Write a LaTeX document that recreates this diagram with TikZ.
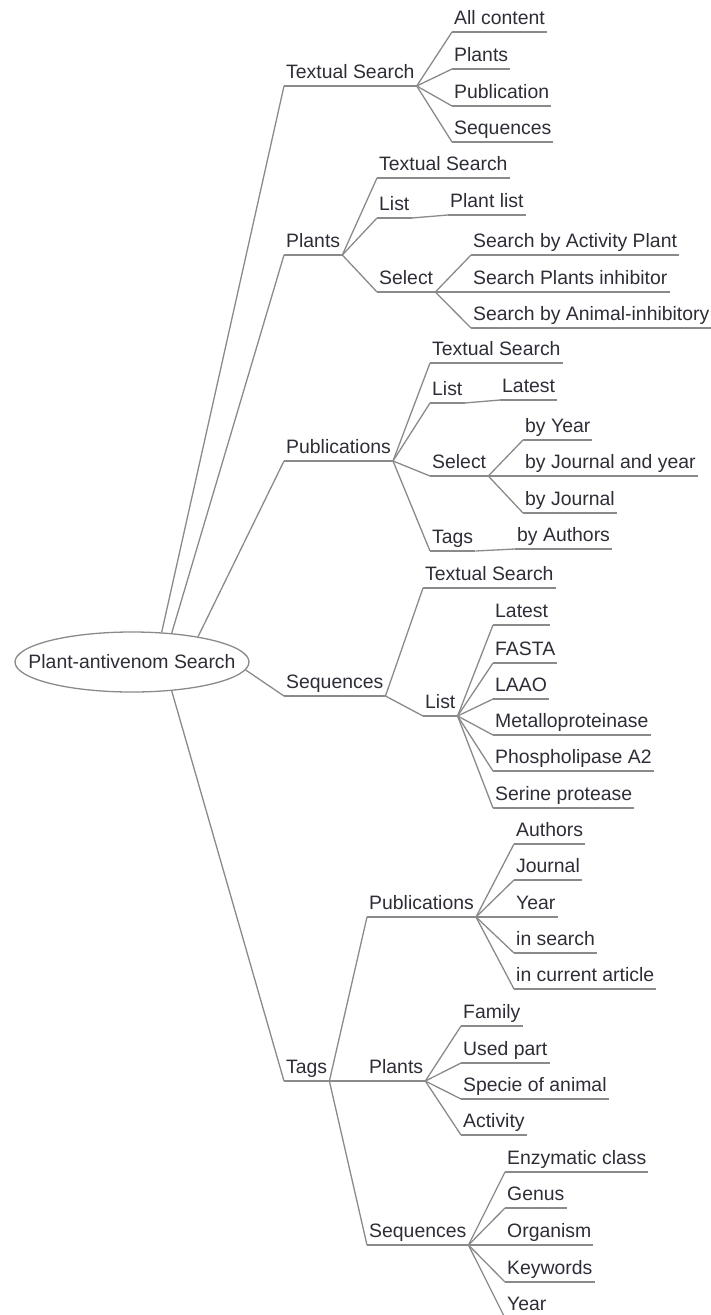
\documentclass[tikz,border=0pt]{standalone}
\usepackage{fontspec}
\setmainfont{Liberation Sans}
\usetikzlibrary{shapes.geometric}
\definecolor{linegray}{RGB}{138,138,138}
\definecolor{textdark}{RGB}{45,45,55}

\begin{document}
\begin{tikzpicture}[x=1pt,y=-1pt,font=\fontsize{19.4}{22}\selectfont,
    every edge/.style={draw=linegray,line width=1.3pt},
    item/.style={anchor=south west,inner xsep=2pt,inner ysep=3pt,
      text height=14pt,text depth=4pt,text=textdark,
      append after command={(\tikzlastnode.south west) edge (\tikzlastnode.south east)}}]
  \useasboundingbox (0,0) rectangle (711,1315);
  \node[ellipse,draw=linegray,line width=1.3pt,minimum width=234pt,
    minimum height=60pt,inner sep=0pt] (root) at (132,662) {};
  \node[text=textdark] (rootlabel) at (root.center) {Plant-antivenom Search};

  \node[item] (tsearch) at (284,86) {Textual Search};
  \node[item] (plants) at (284,255) {Plants};
  \node[item] (pubs) at (284,461) {Publications};
  \node[item] (seqs) at (284,696) {Sequences};
  \node[item] (tags) at (284,1081) {Tags};

  \node[item] (tsAll) at (452,32) {All content};
  \node[item] (tsPlants) at (452,69) {Plants};
  \node[item] (tsPub) at (452,106) {Publication};
  \node[item] (tsSeq) at (452,142) {Sequences};

  \node[item] (plTS) at (377,178) {Textual Search};
  \node[item] (plList) at (377,218) {List};
  \node[item] (plListP) at (448,215) {Plant list};
  \node[item] (plSel) at (377,292) {Select};
  \node[item] (plSel1) at (471,255) {Search by Activity Plant};
  \node[item] (plSel2) at (471,292) {Search Plants inhibitor};
  \node[item] (plSel3) at (471,328) {Search by Animal-inhibitory};

  \node[item] (puTS) at (430,363) {Textual Search};
  \node[item] (puList) at (430,403) {List};
  \node[item] (puLatest) at (500,400) {Latest};
  \node[item] (puSel) at (430,476) {Select};
  \node[item] (puSel1) at (523,440) {by Year};
  \node[item] (puSel2) at (523,476) {by Journal and year};
  \node[item] (puSel3) at (523,513) {by Journal};
  \node[item] (puTags) at (430,551) {Tags};
  \node[item] (puAuth) at (515,549) {by Authors};

  \node[item] (seTS) at (423,588) {Textual Search};
  \node[item] (seList) at (423,716) {List};
  \node[item] (seL1) at (493,625) {Latest};
  \node[item] (seL2) at (493,663) {FASTA};
  \node[item] (seL3) at (493,699) {LAAO};
  \node[item] (seL4) at (493,735) {Metalloproteinase};
  \node[item] (seL5) at (493,771) {Phospholipase A2};
  \node[item] (seL6) at (493,808) {Serine protease};

  \node[item] (tgPub) at (367,917) {Publications};
  \node[item] (tgPub1) at (514,844) {Authors};
  \node[item] (tgPub2) at (514,880) {Journal};
  \node[item] (tgPub3) at (514,917) {Year};
  \node[item] (tgPub4) at (514,953) {in search};
  \node[item] (tgPub5) at (514,989) {in current article};
  \node[item] (tgPl) at (367,1081) {Plants};
  \node[item] (tgPl1) at (461,1026) {Family};
  \node[item] (tgPl2) at (461,1063) {Used part};
  \node[item] (tgPl3) at (461,1099) {Specie of animal};
  \node[item] (tgPl4) at (461,1135) {Activity};
  \node[item] (tgSe) at (367,1245) {Sequences};
  \node[item] (tgSe1) at (505,1172) {Enzymatic class};
  \node[item] (tgSe2) at (505,1208) {Genus};
  \node[item] (tgSe3) at (505,1245) {Organism};
  \node[item] (tgSe4) at (505,1282) {Keywords};
  \node[item] (tgSe5) at (505,1318) {Year};

  \path (root.45) edge (tsearch.south west)
  (root.36) edge (plants.south west)
  (root.21) edge (pubs.south west)
  (root.-4) edge (seqs.south west)
  (root.-36) edge (tags.south west);
  \path (tsearch.south east) edge (tsAll.south west)
  edge (tsPlants.south west)
  edge (tsPub.south west)
  edge (tsSeq.south west)
  (plants.south east) edge (plTS.south west)
  edge (plList.south west)
  edge (plSel.south west)
  (plList.south east) edge (plListP.south west)
  (plSel.south east) edge (plSel1.south west)
  edge (plSel2.south west)
  edge (plSel3.south west)
  (pubs.south east) edge (puTS.south west)
  edge (puList.south west)
  edge (puSel.south west)
  edge (puTags.south west)
  (puList.south east) edge (puLatest.south west)
  (puSel.south east) edge (puSel1.south west)
  edge (puSel2.south west)
  edge (puSel3.south west)
  (puTags.south east) edge (puAuth.south west)
  (seqs.south east) edge (seTS.south west)
  edge (seList.south west)
  (seList.south east) edge (seL1.south west)
  edge (seL2.south west)
  edge (seL3.south west)
  edge (seL4.south west)
  edge (seL5.south west)
  edge (seL6.south west)
  (tags.south east) edge (tgPub.south west)
  edge (tgPl.south west)
  edge (tgSe.south west)
  (tgPub.south east) edge (tgPub1.south west)
  edge (tgPub2.south west)
  edge (tgPub3.south west)
  edge (tgPub4.south west)
  edge (tgPub5.south west)
  (tgPl.south east) edge (tgPl1.south west)
  edge (tgPl2.south west)
  edge (tgPl3.south west)
  edge (tgPl4.south west)
  (tgSe.south east) edge (tgSe1.south west)
  edge (tgSe2.south west)
  edge (tgSe3.south west)
  edge (tgSe4.south west)
  edge (tgSe5.south west);
\end{tikzpicture}
\end{document}
